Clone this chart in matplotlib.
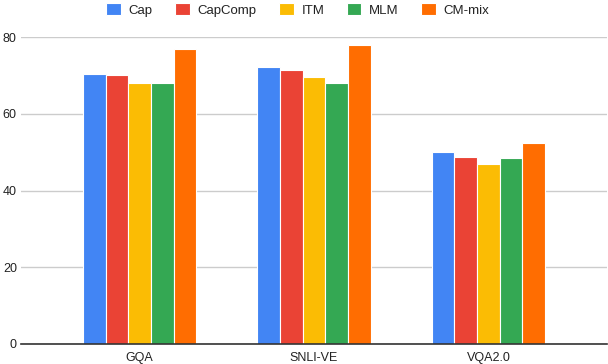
import matplotlib
matplotlib.use("Agg")
import matplotlib.pyplot as plt
import numpy as np

datasets = ["GQA", "SNLI-VE", "VQA2.0"]
methods = ["Cap", "CapComp", "ITM", "MLM", "CM-mix"]
cap = [70.4, 72.1, 50.1]
capcomp = [70.1, 71.3, 48.7]
itm = [68.0, 69.5, 47.0]
mlm = [67.9, 68.1, 48.4]
cm_mix = [76.9, 77.8, 52.4]
colors = ["#4285F4", "#EA4335", "#FBBC04", "#34A853", "#FF6D01"]

plt.rcParams["font.family"] = ["Liberation Sans", "DejaVu Sans"]

fig = plt.figure(figsize=(6.08, 3.64), dpi=100)
ax = fig.add_axes([21 / 608, 1 - 344 / 364, 586 / 608, 307 / 364])

x = np.arange(len(datasets))
width = 0.13
series = [cap, capcomp, itm, mlm, cm_mix]
for i, (name, vals) in enumerate(zip(methods, series)):
    ax.bar(x + (i - 2) * width, vals, width, color=colors[i], label=name,
           edgecolor="white", linewidth=0.8, zorder=3)

ax.set_ylim(0, 80)
ax.set_xlim(-0.68, 2.68)
ax.set_yticks([0, 20, 40, 60, 80])
ax.set_xticks(x)
ax.set_xticklabels(datasets)
ax.tick_params(axis="both", length=0, labelsize=9, colors="#222222")
ax.tick_params(axis="y", pad=3)
ax.tick_params(axis="x", pad=6)
ax.grid(axis="y", color="#cccccc", linewidth=1, zorder=0)
for s in ["top", "right", "left"]:
    ax.spines[s].set_visible(False)
ax.spines["bottom"].set_color("#333333")
ax.spines["bottom"].set_linewidth(1.2)
ax.spines["bottom"].set_zorder(4)

fig.legend(loc="upper center", bbox_to_anchor=(0.49, 1.025), ncol=5, frameon=False,
           fontsize=9.5, handlelength=1.1, handleheight=1.1, columnspacing=1.7,
           handletextpad=0.6, labelcolor="#222222")

fig.savefig("out.png", dpi=100)
